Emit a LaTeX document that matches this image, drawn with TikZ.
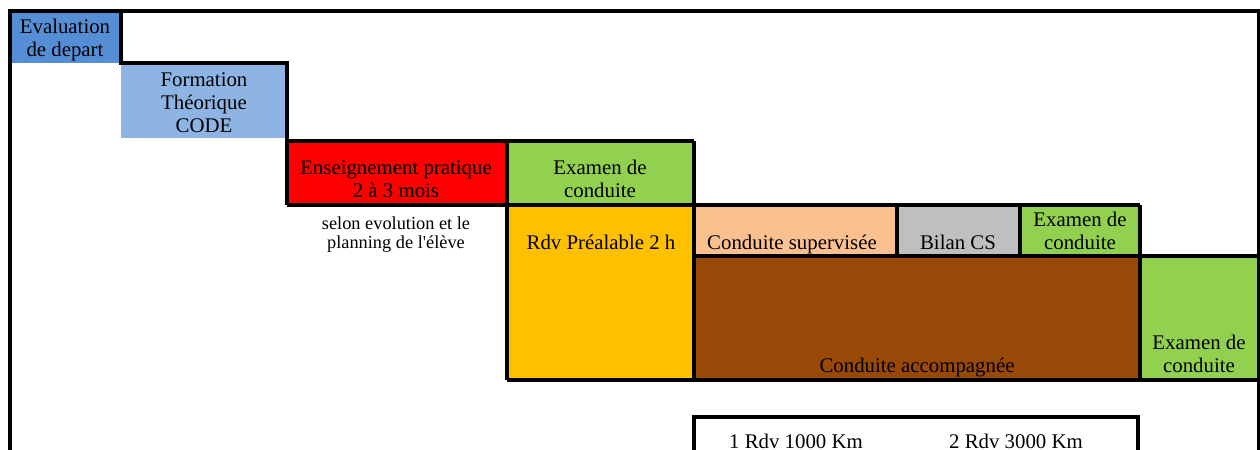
\documentclass[tikz,border=0pt]{standalone}
\usepackage{fontspec}
\setmainfont{Liberation Serif}
\definecolor{evalblue}{RGB}{85,142,213}
\definecolor{formblue}{RGB}{141,180,227}
\definecolor{pracred}{RGB}{255,0,0}
\definecolor{examgreen}{RGB}{146,208,80}
\definecolor{rdvyellow}{RGB}{255,192,0}
\definecolor{cspeach}{RGB}{250,192,144}
\definecolor{bilangray}{RGB}{191,191,191}
\definecolor{accbrown}{RGB}{152,72,7}
\tikzstyle{boxtext}=[anchor=base,align=center,inner sep=0pt,font=\fontsize{12.5}{14}\selectfont]
\tikzstyle{note}=[boxtext,font=\fontsize{11}{11.4}\selectfont]
\tikzstyle{rule}=[draw,line width=2pt]

\begin{document}
\begin{tikzpicture}[x=0.6pt,y=-0.6pt]
	\useasboundingbox (0,0) rectangle (1260,450);

	% First we fill the cells of the planning
	\foreach \from/\to/\col in {{(10,11)/(121,63)/evalblue}, {(121,63)/(287,138.5)/formblue},
							{(287,141)/(507,205)/pracred}, {(507,141)/(694,205)/examgreen},
							{(507,205)/(694,380)/rdvyellow}, {(694,205)/(897,256)/cspeach},
							{(897,205)/(1020,256)/bilangray}, {(1020,205)/(1140,256)/examgreen},
							{(694,256)/(1140,380)/accbrown}, {(1140,256)/(1259,380)/examgreen}}
	\fill[\col] \from rectangle \to;

	% Then the black borders
	\path[rule] (10,450) -- (10,11) -- (1259,11) -- (1259,450);
	\path[rule] (121,11) -- (121,63) -- (287,63) -- (287,205);
	\path[rule] (287,141) -- (694,141);
	\path[rule] (287,205) -- (1140,205);
	\path[rule] (507,141) -- (507,380);
	\path[rule] (694,141) -- (694,380);
	\foreach \xx in {897,1020}
	\path[rule] (\xx,205) -- (\xx,256);
	\path[rule] (1140,205) -- (1140,380);
	\path[rule] (694,256) -- (1259,256);
	\path[rule] (507,380) -- (1259,380);
	\path[rule] (694,450) -- (694,417) -- (1138,417) -- (1138,450);

	% Texts of the cells (positions are the baselines of the last lines)
	\foreach \pos/\name/\txt in {{(65,57)/eval/{Evaluation\\de depart}},
							{(204,133)/form/{Formation\\Théorique\\CODE}},
							{(396,198)/prac/{Enseignement pratique\\2 à 3 mois}},
							{(600,198)/examA/{Examen de\\conduite}},
							{(601,250)/rdv/{Rdv Préalable 2 h}},
							{(792,250)/cs/{Conduite supervisée}},
							{(958,250)/bilan/{Bilan CS}},
							{(1080,250)/examB/{Examen de\\conduite}},
							{(917,373)/acc/{Conduite accompagnée}},
							{(1199,373)/examC/{Examen de\\conduite}},
							{(796,448)/kmA/{1 Rdv 1000 Km}},
							{(1016,448)/kmB/{2 Rdv 3000 Km}}}
	\node[boxtext] (\name) at \pos {\txt};

	\node[note] (evol) at (396,249) {selon evolution et le\\planning de l\textquotesingle élève};
\end{tikzpicture}
\end{document}
